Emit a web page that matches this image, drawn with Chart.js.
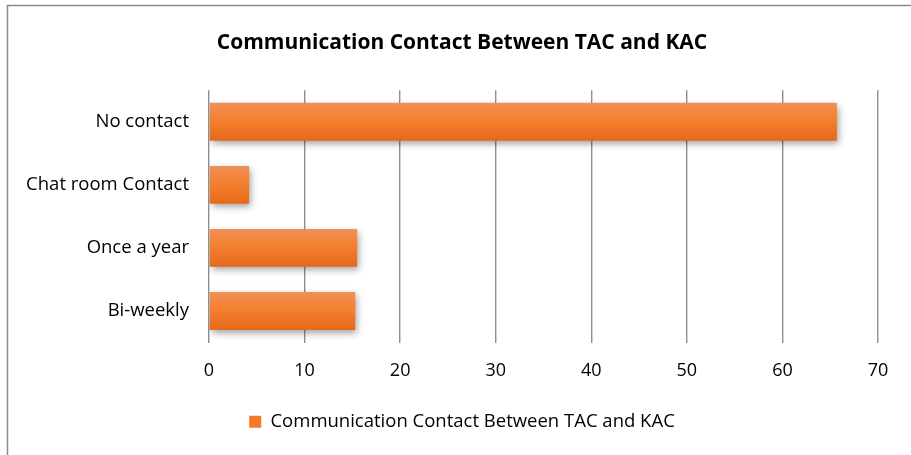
<!DOCTYPE html>
<html>
<head>
<meta charset="utf-8">
<script src="https://cdn.jsdelivr.net/npm/chart.js@4/dist/chart.umd.min.js"></script>
<style>
  html, body { margin: 0; padding: 0; background: #fff; }
  #wrap { width: 911px; height: 455px; position: relative; }
</style>
</head>
<body>
<div id="wrap"><canvas id="c" width="911" height="455"></canvas></div>
<script>
const categories = ["No contact", "Chat room Contact", "Once a year", "Bi-weekly"];
const values = [65.7, 4.2, 15.5, 15.3];
const seriesName = "Communication Contact Between TAC and KAC";
const chartTitle = "Communication Contact Between TAC and KAC";
const xTicks = [0, 10, 20, 30, 40, 50, 60, 70];

const FONT = "'Open Sans', Lato, sans-serif";

function barGradient(ctx) {
  const chart = ctx.chart;
  const el = ctx.element;
  if (!chart.chartArea) return '#F47F2E';
  const c = chart.ctx;
  let y0 = chart.chartArea.top, y1 = chart.chartArea.bottom;
  if (el && el.y !== undefined && el.height) {
    y0 = el.y - el.height / 2; y1 = el.y + el.height / 2;
  } else if (ctx.type === 'data') {
    const ys = chart.scales.y;
    const yc = ys.getPixelForValue(ctx.dataIndex);
    y0 = yc - 19; y1 = yc + 19;
  }
  const g = c.createLinearGradient(0, y0, 0, y1);
  g.addColorStop(0, '#F0905A');
  g.addColorStop(0.45, '#F5802E');
  g.addColorStop(1, '#E4691C');
  return g;
}

const borderPlugin = {
  id: 'frame',
  afterLayout(chart) {
    // let the long category labels extend into the left padding without being clipped
    if (chart.scales.y) chart.scales.y.left = 0;
  },
  beforeDraw(chart) {
    const c = chart.ctx;
    c.save();
    c.fillStyle = '#fff';
    c.fillRect(0, 0, chart.width, chart.height);
    c.strokeStyle = '#8a8a8a';
    c.lineWidth = 1.5;
    c.beginPath();
    c.moveTo(7.5, chart.height + 2);
    c.lineTo(7.5, 5.5);
    c.lineTo(chart.width + 2, 5.5);
    c.stroke();
    c.restore();
  }
};

const shadowPlugin = {
  id: 'barShadow',
  beforeDatasetsDraw(chart) {
    const c = chart.ctx;
    c.save();
    c.shadowColor = 'rgba(0,0,0,0.38)';
    c.shadowBlur = 7;
    c.shadowOffsetX = 2;
    c.shadowOffsetY = 3;
  },
  afterDatasetsDraw(chart) {
    chart.ctx.restore();
  }
};

new Chart(document.getElementById('c'), {
  type: 'bar',
  data: {
    labels: categories,
    datasets: [{
      label: seriesName,
      data: values,
      backgroundColor: (ctx) => barGradient(ctx),
      borderWidth: 0,
      barPercentage: 0.6,
      categoryPercentage: 1.0
    }]
  },
  options: {
    indexAxis: 'y',
    responsive: false,
    animation: false,
    devicePixelRatio: 1,
    layout: { padding: { left: 46, right: 33, top: 0, bottom: 14 } },
    plugins: {
      title: {
        display: true,
        text: chartTitle,
        color: '#000',
        font: { family: FONT, size: 21, weight: 'bold' },
        padding: { top: 30, bottom: 35 }
      },
      legend: {
        display: true,
        position: 'bottom',
        labels: {
          color: '#000',
          font: { family: FONT, size: 18.5 },
          boxWidth: 12,
          boxHeight: 12,
          padding: 10,
          generateLabels(chart) {
            return [{
              text: seriesName,
              fillStyle: '#F27A2A',
              strokeStyle: '#F27A2A',
              lineWidth: 0,
              datasetIndex: 0,
              hidden: false
            }];
          }
        }
      },
      tooltip: { enabled: false }
    },
    scales: {
      x: {
        min: 0,
        max: 70,
        afterBuildTicks(scale) { scale.ticks = xTicks.map(v => ({ value: v })); },
        ticks: { color: '#000', font: { family: FONT, size: 18 }, padding: 18 },
        grid: { color: '#8e8e8e', lineWidth: 1.4, drawTicks: false },
        border: { display: false },
        afterFit(scale) { scale.height = 60; }
      },
      y: {
        ticks: { color: '#000', font: { family: FONT, size: 18.5 }, padding: 20 },
        grid: { display: false, drawTicks: false },
        border: { display: false },
        afterFit(scale) { scale.width = 163; }
      }
    }
  },
  plugins: [borderPlugin, shadowPlugin]
});
</script>
</body>
</html>
